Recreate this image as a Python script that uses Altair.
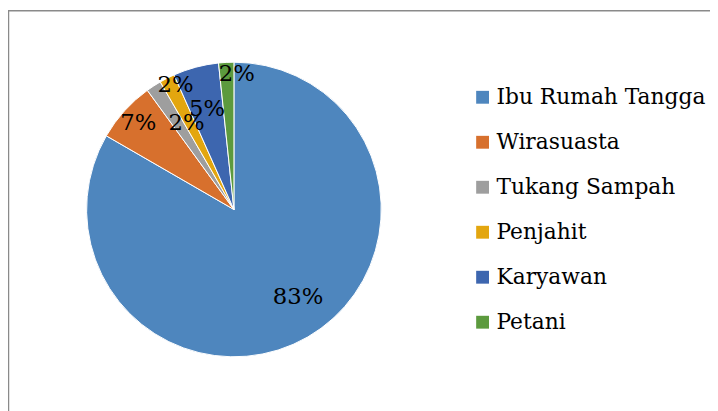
import altair as alt
import pandas as pd
import math

categories = ["Ibu Rumah Tangga", "Wirasuasta", "Tukang Sampah", "Penjahit", "Karyawan", "Petani"]
counts = [50, 4, 1, 1, 3, 1]
colors = ["#4E86BE", "#D7702D", "#9E9E9E", "#E3A60F", "#3D66AF", "#5C9A3E"]

# label placement (layout only): distance from centre in px, angular shift in degrees
label_radius = [110, 130, 100, 139, 105, 137]
label_shift_deg = [-6.1, 0, 4.4, 1.9, 0, 4.25]

total = sum(counts)
df = pd.DataFrame({
    "kategori": categories,
    "jumlah": counts,
    "ord": list(range(len(categories))),
    "label": [f"{round(100 * c / total)}%" for c in counts],
    "lr": label_radius,
    "shift": label_shift_deg,
})

CX, CY = 228.5, 201.5
FONT = "DejaVu Serif"
theta_scale = alt.Scale(domain=[0, total], range=[0, 2 * math.pi])

base = alt.Chart(df)

frame = alt.Chart(pd.DataFrame({"a": [0]})).mark_rect(
    fill="white", fillOpacity=0, stroke="#8a8a8a", strokeWidth=1.5
).encode(
    x=alt.value(0.5), x2=alt.value(900), y=alt.value(0.5), y2=alt.value(900)
)

pie = base.mark_arc(radius=149, stroke="white", strokeWidth=1).encode(
    theta=alt.Theta("jumlah:Q", stack=True, scale=theta_scale),
    color=alt.Color(
        "kategori:N",
        sort=categories,
        scale=alt.Scale(domain=categories, range=colors),
        legend=alt.Legend(
            title=None,
            orient="none",
            legendX=469,
            legendY=77,
            symbolType="square",
            symbolSize=169,
            symbolStrokeWidth=0,
            labelFont=FONT,
            labelFontSize=22,
            labelColor="black",
            labelOffset=3,
            rowPadding=23.5,
            padding=0,
            labelLimit=400,
        ),
    ),
    order=alt.Order("ord:Q"),
    x=alt.value(CX),
    y=alt.value(CY),
)

labels = base.transform_window(
    cum="sum(jumlah)", sort=[alt.SortField("ord")]
).transform_calculate(
    mid=f"datum.cum - datum.jumlah / 2 + datum.shift * {total} / 360"
).mark_text(font=FONT, fontSize=23, color="black", align="center", baseline="middle").encode(
    theta=alt.Theta("mid:Q", stack=None, scale=theta_scale),
    radius=alt.Radius("lr:Q", scale=None),
    text="label:N",
    x=alt.value(CX),
    y=alt.value(CY),
)

chart = alt.layer(frame, pie, labels).properties(
    width=710,
    height=403,
    autosize=alt.AutoSizeParams(type="none"),
    padding=0,
).configure_view(stroke=None)

chart.save("out.html", embed_options={"renderer": "svg", "actions": False})
